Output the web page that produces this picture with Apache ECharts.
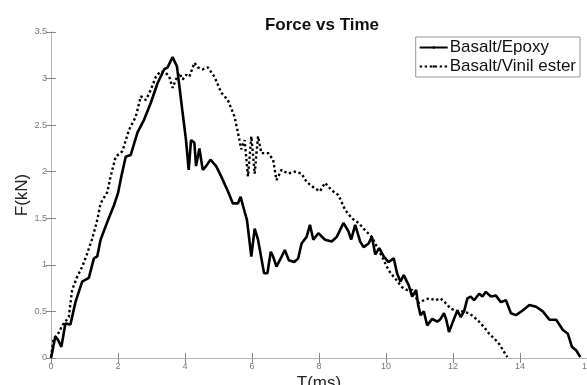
<!DOCTYPE html>
<html><head><meta charset="utf-8">
<script src="https://cdn.jsdelivr.net/npm/echarts@6/dist/echarts.min.js"></script>
<style>html,body{margin:0;padding:0;background:#fff}#c{width:587px;height:385px}</style>
</head><body><div id="c"></div>
<script>
const xTicks = [0,2,4,6,8,10,12,14,16];
const yTicks = [0,0.5,1,1.5,2,2.5,3,3.5];
const epoxyT = [0,0.13,0.2,0.31,0.43,0.58,0.73,0.93,1.13,1.28,1.38,1.48,1.68,1.88,2.0,2.1,2.23,2.38,2.58,2.78,2.98,3.18,3.38,3.48,3.63,3.76,3.93,4.03,4.11,4.18,4.28,4.33,4.43,4.53,4.63,4.76,4.93,5.08,5.28,5.43,5.58,5.66,5.78,5.85,5.98,6.08,6.18,6.36,6.46,6.56,6.63,6.73,6.83,6.98,7.1,7.26,7.38,7.48,7.63,7.73,7.83,7.98,8.18,8.38,8.53,8.73,8.88,8.96,9.08,9.23,9.33,9.48,9.58,9.68,9.8,9.93,10.08,10.23,10.33,10.43,10.53,10.68,10.78,10.9,10.96,11.03,11.13,11.23,11.38,11.53,11.63,11.73,11.8,11.88,12.03,12.13,12.23,12.33,12.43,12.53,12.63,12.78,12.88,12.98,13.13,13.28,13.43,13.58,13.73,13.88,14.08,14.28,14.48,14.68,14.88,15.08,15.28,15.43,15.55,15.68,15.8];
const epoxyF = [0,0.23,0.2,0.12,0.37,0.36,0.6,0.82,0.86,1.07,1.09,1.27,1.46,1.64,1.77,1.95,2.16,2.18,2.42,2.56,2.74,2.95,3.10,3.12,3.23,3.13,2.63,2.34,2.02,2.34,2.31,2.06,2.25,2.02,2.06,2.13,2.06,1.95,1.79,1.66,1.66,1.73,1.57,1.48,1.09,1.39,1.27,0.91,0.91,1.14,1.09,0.98,1.05,1.16,1.05,1.03,1.07,1.23,1.30,1.43,1.27,1.34,1.27,1.25,1.30,1.45,1.36,1.27,1.43,1.25,1.19,1.23,1.30,1.11,1.18,1.09,1.03,1.07,0.91,0.82,0.89,0.78,0.66,0.73,0.57,0.46,0.50,0.35,0.42,0.39,0.42,0.48,0.41,0.28,0.42,0.51,0.44,0.50,0.64,0.66,0.62,0.69,0.66,0.71,0.66,0.67,0.60,0.62,0.48,0.46,0.51,0.57,0.55,0.50,0.41,0.41,0.30,0.26,0.12,0.08,0.01];
const vinilT = [0,0.08,0.16,0.25,0.33,0.43,0.53,0.63,0.78,0.93,1.08,1.23,1.38,1.48,1.68,1.78,1.93,2.13,2.33,2.53,2.68,2.83,2.98,3.13,3.28,3.43,3.53,3.63,3.73,3.83,3.93,4.03,4.13,4.28,4.38,4.53,4.68,4.88,5.08,5.28,5.48,5.58,5.68,5.78,5.88,5.98,6.08,6.18,6.28,6.48,6.63,6.73,6.88,7.08,7.28,7.48,7.63,7.88,8.03,8.18,8.38,8.58,8.78,8.98,9.18,9.38,9.58,9.73,9.88,10.08,10.28,10.48,10.63,10.78,10.88,10.98,11.13,11.28,11.48,11.63,11.78,11.93,12.08,12.28,12.48,12.63,12.78,12.93,13.08,13.23,13.38,13.5,13.62];
const vinilF = [0.01,0.21,0.24,0.28,0.35,0.39,0.44,0.73,0.87,0.98,1.12,1.28,1.48,1.66,1.78,1.95,2.16,2.22,2.45,2.59,2.81,2.77,2.88,3.02,3.08,3.06,3.02,2.90,2.99,3.06,2.99,3.04,3.02,3.17,3.12,3.10,3.12,3.02,2.85,2.77,2.59,2.42,2.24,2.34,1.95,2.38,1.98,2.38,2.20,2.20,2.13,1.91,2.02,1.98,2.00,1.98,1.89,1.82,1.79,1.88,1.80,1.75,1.59,1.50,1.45,1.37,1.30,1.19,1.09,0.94,0.85,0.76,0.73,0.73,0.66,0.59,0.62,0.64,0.62,0.64,0.59,0.53,0.51,0.50,0.48,0.44,0.39,0.33,0.26,0.21,0.15,0.08,0.01];

const FONT = '"Liberation Sans", Arial, sans-serif';
const axisGray = '#b4b4b4';
const labelGray = '#7a7a7a';
const chart = echarts.init(document.getElementById('c'));
const xBase = {type:'value', min:xTicks[0], max:xTicks[xTicks.length-1], interval:xTicks[1]-xTicks[0],
  axisLine:{show:true, lineStyle:{color:axisGray, width:1}},
  axisTick:{show:true, inside:true, length:5, lineStyle:{color:'#888'}},
  splitLine:{show:false}};
const yBase = {type:'value', min:yTicks[0], max:yTicks[yTicks.length-1], interval:yTicks[1]-yTicks[0],
  axisLine:{show:true, lineStyle:{color:axisGray, width:1}},
  axisTick:{show:true, inside:true, length:5, lineStyle:{color:'#888'}},
  splitLine:{show:false}};
chart.setOption({
  animation:false,
  backgroundColor:'#fff',
  title:{text:'Force vs Time', left:317, textAlign:'center', top:12,
    textStyle:{fontFamily:FONT, fontSize:17, fontWeight:'bold', color:'#111'}},
  grid:{left:51, right:0, top:32, bottom:27, containLabel:false, outerBoundsMode:'none'},
  legend:{orient:'vertical', right:7, top:37, backgroundColor:'#fff', borderColor:'#999', borderWidth:1,
    padding:[2,4,2,3], itemGap:2, itemWidth:28, itemHeight:3,
    textStyle:{fontFamily:FONT, fontSize:17, color:'#111', padding:[0,0,0,-3]},
    data:['Basalt/Epoxy','Basalt/Vinil ester']},
  xAxis:[
    Object.assign({}, xBase, {position:'bottom', name:'T(ms)', nameLocation:'middle', nameGap:17,
      nameMoveOverlap:false,
      nameTextStyle:{fontFamily:FONT, fontSize:17, color:'#222'},
      axisLabel:{show:true, fontFamily:FONT, fontSize:9, color:labelGray, margin:4}}),
    Object.assign({}, xBase, {position:'top', axisLabel:{show:false}})
  ],
  yAxis:[
    Object.assign({}, yBase, {position:'left', name:'F(kN)', nameLocation:'middle', nameGap:20,
      nameMoveOverlap:false,
      nameTextStyle:{fontFamily:FONT, fontSize:17, color:'#222'},
      axisLabel:{show:true, fontFamily:FONT, fontSize:9, color:labelGray, margin:4,
        formatter:v=>String(v)}}),
    Object.assign({}, yBase, {position:'right', axisLabel:{show:false}})
  ],
  series:[
    {name:'Basalt/Epoxy', type:'line', xAxisIndex:0, yAxisIndex:0, symbol:'none',
      lineStyle:{color:'#000', width:2.6, type:'solid'}, itemStyle:{color:'#000'},
      data:epoxyT.map((t,i)=>[t,epoxyF[i]])},
    {name:'Basalt/Vinil ester', type:'line', xAxisIndex:0, yAxisIndex:0, symbol:'none',
      lineStyle:{color:'#000', width:2.4, type:[2.4,2.6]}, itemStyle:{color:'#000'},
      data:vinilT.map((t,i)=>[t,vinilF[i]])}
  ]
});
</script></body></html>
